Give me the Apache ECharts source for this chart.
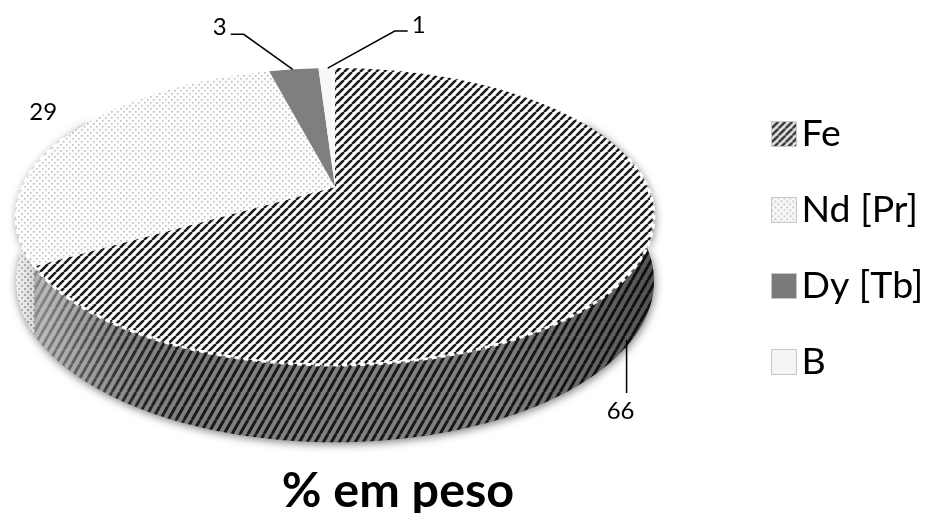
<!DOCTYPE html>
<html><head><meta charset="utf-8">
<script src="https://cdn.jsdelivr.net/npm/echarts@6/dist/echarts.min.js"></script>
<style>html,body{margin:0;padding:0;background:#fff}#c{width:929px;height:513px}</style></head>
<body><div id="c"></div>
<script>
const categories = ['Fe', 'Nd [Pr]', 'Dy [Tb]', 'B'];
const values = [66, 29, 3, 1];
const chartTitle = '% em peso';

const total = values.reduce((a, b) => a + b, 0);
const PIV = [335, 187], R = 312.6, S = 142.6, K = 0.1987, DEPTH = 62;
const rad = d => d * Math.PI / 180;
function proj(deg, dropped) {
  const x = Math.sin(rad(deg)), y = -Math.cos(rad(deg)), w = 1 - K * y;
  return [PIV[0] + R * x / w, PIV[1] + S * y / w + (dropped ? DEPTH / w : 0)];
}
function arc(a, b, dropped) {
  const pts = [], n = Math.max(2, Math.ceil((b - a) / 1.5));
  for (let i = 0; i <= n; i++) pts.push(proj(a + (b - a) * i / n, dropped));
  return pts;
}
function tile(w, h, draw) {
  const c = document.createElement('canvas'); c.width = w; c.height = h;
  draw(c.getContext('2d'), w, h); return { image: c, repeat: 'repeat' };
}
function stripes(w, h, bg, fg, lw) {
  return tile(w, h, (g) => {
    g.fillStyle = bg; g.fillRect(0, 0, w, h);
    g.strokeStyle = fg; g.lineWidth = lw;
    for (const dx of [-w, 0, w]) { g.beginPath(); g.moveTo(dx, h); g.lineTo(dx + w, 0); g.stroke(); }
  });
}
function dots(bg, fg, size) {
  return tile(6, 6, (g) => {
    g.fillStyle = bg; g.fillRect(0, 0, 6, 6);
    g.fillStyle = fg; g.fillRect(0, 0, size, size); g.fillRect(3, 3, size, size);
  });
}
const topFill = [stripes(8, 8, '#ffffff', '#1c1c1c', 2.6), dots('#fdfdfd', '#bdbdbd', 1.6), '#7f7f7f', '#f8f8f8'];
const sideFill = [stripes(8, 14, '#808080', '#181818', 3.0), dots('#e2e2e2', '#9a9a9a', 2), '#5a5a5a', '#d8d8d8'];
const legendFill = [stripes(7, 7, '#ececec', '#2a2a2a', 2.4), dots('#f8f8f8', '#b8b8b8', 1.6), '#7a7a7a', '#f4f4f4'];

// label placement relative to the point of the rim at the slice's mid angle
const labelPlace = [
  { dropped: true, text: [-15, 76], line: [[-9, 5], [-9, 58]] },
  { dropped: false, text: [-24, -24], line: null },
  { dropped: false, text: [-74, -42], line: [[-1, 0], [-50, -35], [-63, -35]] },
  { dropped: false, text: [92, -43], line: [[1, 0], [68, -37], [81, -37]] }
];

function renderSlice(params, api) {
  const i = params.seriesIndex, v = api.value(0);
  const before = values.slice(0, i).reduce((a, b) => a + b, 0);
  const a = before / total * 360, b = a + v / total * 360, mid = (a + b) / 2;
  const top = arc(a, b, false);
  const children = [];
  if (b > 90 && a < 270) {
    const sa = Math.max(a, 60), sb = Math.min(b, 300);
    const ft = arc(sa, sb, false), fl = arc(sa, sb, true);
    const wall = ft.concat(fl.slice().reverse());
    children.push({ type: 'polygon', z2: 1, shape: { points: wall },
      style: { fill: sideFill[i], shadowBlur: 9, shadowColor: 'rgba(0,0,0,0.5)', shadowOffsetY: 2, shadowOffsetX: 1 } });
    children.push({ type: 'polygon', z2: 2, shape: { points: wall },
      style: { fill: { type: 'linear', x: 0, y: 0, x2: 1, y2: 0, global: false, colorStops: [
        { offset: 0, color: 'rgba(255,255,255,0.5)' }, { offset: 0.14, color: 'rgba(255,255,255,0.1)' },
        { offset: 0.3, color: 'rgba(0,0,0,0.0)' }, { offset: 0.75, color: 'rgba(0,0,0,0.0)' }, { offset: 1, color: 'rgba(0,0,0,0.35)' }] } } });
    children.push({ type: 'polyline', z2: 4, shape: { points: arc(Math.max(a, 78), Math.min(b, 292), false) },
      style: { fill: null, stroke: '#fff', lineWidth: 3, lineDash: [5, 4] } });
  }
  children.push({ type: 'polygon', z2: 3, shape: { points: [PIV].concat(top) }, style: { fill: topFill[i] } });
  const pl = labelPlace[i], anchor = proj(mid, pl.dropped);
  if (pl.line) children.push({ type: 'polyline', z2: 5,
    shape: { points: pl.line.map(o => [anchor[0] + o[0], anchor[1] + o[1]]) },
    style: { fill: null, stroke: '#000', lineWidth: 1.5 } });
  children.push({ type: 'text', z2: 5, style: { x: anchor[0] + pl.text[0], y: anchor[1] + pl.text[1], text: String(v),
    fill: '#000', font: '24px Lato', align: 'center', verticalAlign: 'middle' } });
  return { type: 'group', children };
}

const chart = echarts.init(document.getElementById('c'), null, { renderer: 'canvas' });
chart.setOption({
  animation: false,
  backgroundColor: '#fff',
  title: { text: chartTitle, left: 393, top: 462, textAlign: 'center',
    textStyle: { fontFamily: 'Lato', fontWeight: 'bold', fontSize: 48.5, color: '#000' } },
  legend: {
    orient: 'vertical', left: 766, top: 110, itemWidth: 25, itemHeight: 25, itemGap: 38, itemStyle: { borderColor: '#c8c8c8', borderWidth: 1 },
    textStyle: { fontFamily: 'Lato', fontSize: 37.5, color: '#000', lineHeight: 25, padding: [0, 0, 0, 0] },
    selectedMode: false,
    data: categories.map((name, i) => ({ name, icon: 'rect', itemStyle: { color: legendFill[i] } }))
  },
  series: categories.map((name, i) => ({
    type: 'custom', name, coordinateSystem: 'none', silent: true,
    itemStyle: { color: '#808080' },
    renderItem: renderSlice, data: [[values[i]]]
  }))
});
</script></body></html>
